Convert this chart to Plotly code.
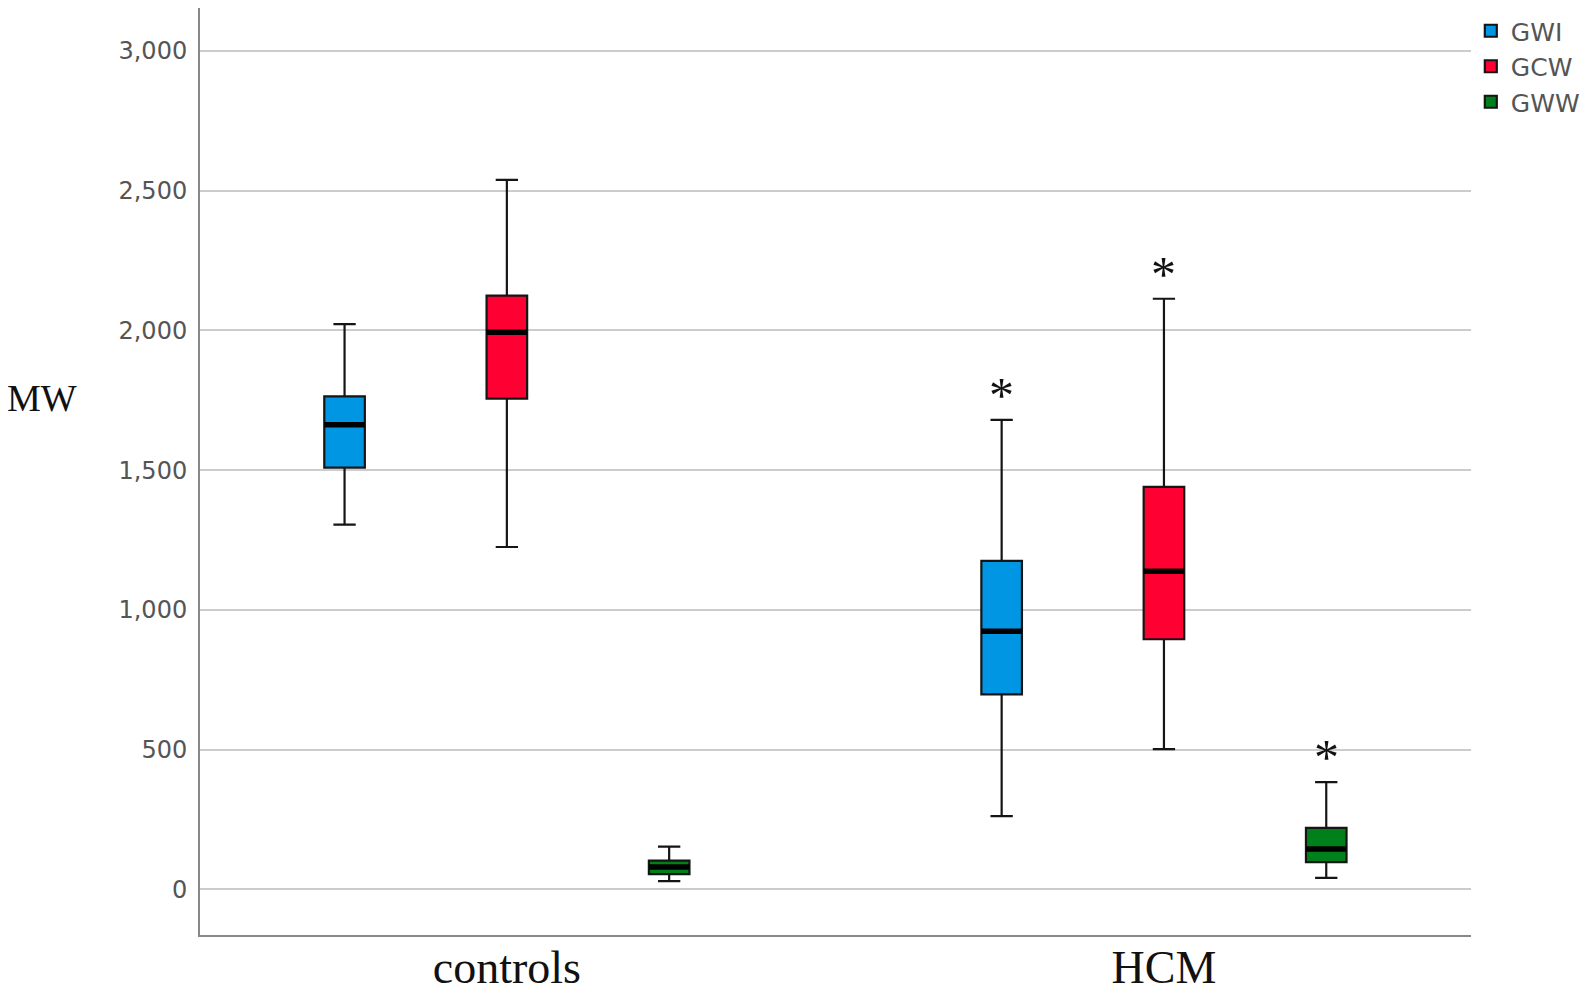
import plotly.graph_objects as go

groups = ["controls", "HCM"]
series = ["GWI", "GCW", "GWW"]
colors = {"GWI": "#0096E3", "GCW": "#FF0033", "GWW": "#00801A"}

# box statistics per series: [controls, HCM]
lowerfence = {"GWI": [1305, 262], "GCW": [1225, 502], "GWW": [30, 41]}
q1 = {"GWI": [1509, 698], "GCW": [1756, 895], "GWW": [55, 98]}
median = {"GWI": [1662, 924], "GCW": [1993, 1138], "GWW": [80, 145]}
q3 = {"GWI": [1764, 1175], "GCW": [2124, 1440], "GWW": [103, 220]}
upperfence = {"GWI": [2022, 1680], "GCW": [2538, 2113], "GWW": [153, 384]}

# significance markers (HCM vs controls)
significant = {"GWI": [False, True], "GCW": [False, True], "GWW": [False, True]}

y_ticks = [0, 500, 1000, 1500, 2000, 2500, 3000]

fig = go.Figure()
for s in series:
    fig.add_trace(go.Box(
        x=groups, name=s, offsetgroup=s, alignmentgroup="a",
        q1=q1[s], median=median[s], q3=q3[s],
        lowerfence=lowerfence[s], upperfence=upperfence[s],
        fillcolor=colors[s], line=dict(color="#151515", width=2.2),
        whiskerwidth=0.55, boxpoints=False, hoverinfo="skip",
    ))
for s in series:
    # thick median bar drawn as a degenerate box
    fig.add_trace(go.Box(
        x=groups, name=s + " median", offsetgroup=s, alignmentgroup="a",
        q1=median[s], median=median[s], q3=median[s],
        lowerfence=median[s], upperfence=median[s],
        fillcolor="rgba(0,0,0,0)", line=dict(color="#000000", width=5.5),
        whiskerwidth=0, boxpoints=False, hoverinfo="skip", showlegend=False,
    ))

boxgap = 0.259
offset = (1 - boxgap) / len(series)
annotations = []
for i, s in enumerate(series):
    for gi, g in enumerate(groups):
        if significant[s][gi]:
            annotations.append(dict(
                x=gi + (i - 1) * offset, y=upperfence[s][gi], xref="x", yref="y",
                text="*", showarrow=False, yshift=25, xanchor="center",
                font=dict(family="Liberation Serif", size=50, color="#111111"),
            ))
annotations.append(dict(
    x=-0.124, y=0.579, xref="paper", yref="paper", text="MW", showarrow=False,
    xanchor="center", yanchor="middle",
    font=dict(family="Liberation Serif", size=38, color="#111111"),
))

fig.update_layout(
    width=1578, height=984,
    margin=dict(l=192, r=112, t=0, b=57),
    paper_bgcolor="white", plot_bgcolor="white",
    boxmode="group", boxgap=boxgap, boxgroupgap=0.75,
    showlegend=True,
    legend=dict(
        xref="container", yref="paper", x=0.927, y=1.012,
        xanchor="left", yanchor="top",
        font=dict(family="DejaVu Sans", size=25, color="#555555"),
        bgcolor="rgba(0,0,0,0)", itemwidth=30, tracegroupgap=0,
    ),
    annotations=annotations,
    xaxis=dict(
        type="category", range=[-0.467, 1.467], automargin=False,
        showline=True, linecolor="#888888", linewidth=2,
        showgrid=False, zeroline=False, ticks="", ticklabelstandoff=-9,
        tickfont=dict(family="Liberation Serif", size=46, color="#111111"),
    ),
    yaxis=dict(
        range=[-163, 3153], tickvals=y_ticks, tickformat=",", automargin=False,
        showline=True, linecolor="#888888", linewidth=2,
        showgrid=True, gridcolor="#CCCCCC", gridwidth=2, zeroline=False,
        ticks="", ticklabelstandoff=6,
        tickfont=dict(family="DejaVu Sans", size=24, color="#555555"),
    ),
)

fig.write_html("out.html")
